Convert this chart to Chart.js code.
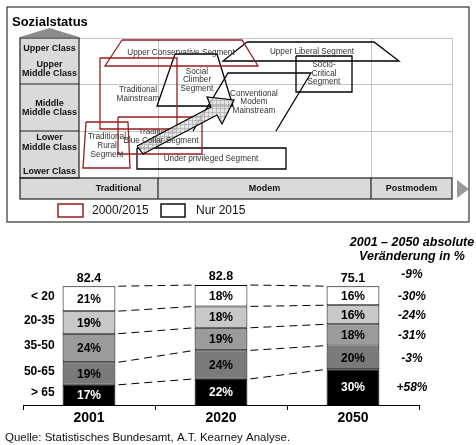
<!DOCTYPE html>
<html><head><meta charset="utf-8">
<script src="https://cdn.jsdelivr.net/npm/chart.js@4.4.0/dist/chart.umd.min.js"></script>
<style>
html,body{margin:0;padding:0;background:#fff;}
#wrap{position:relative;width:476px;height:445px;overflow:hidden;background:#fff;}
#c1{position:absolute;left:0;top:0;}
#c2{position:absolute;left:0;top:230px;}
</style></head><body>
<div id="wrap">
<canvas id="c1" width="476" height="230"></canvas>
<canvas id="c2" width="476" height="215"></canvas>
</div>
<script>
// ---------- Bottom chart data ----------
const years = ['2001', '2020', '2050'];
const totals = ['82.4', '82.8', '75.1'];
const ageGroups = ['> 65', '50-65', '35-50', '20-35', '< 20']; // bottom to top
const share65plus = [17, 22, 30];
const share50to65 = [19, 24, 20];
const share35to50 = [24, 19, 18];
const share20to35 = [19, 18, 16];
const shareUnder20 = [21, 18, 16];
const changeLabels = ['+58%', '-3%', '-31%', '-24%', '-30%']; // bottom to top
const totalChange = '-9%';
const headerLines = ['2001 \u2013 2050 absolute', 'Ver\u00e4nderung in %'];
const sourceText = 'Quelle: Statistisches Bundesamt, A.T. Kearney Analyse.';

// ---------- Top diagram data (value orientation x, social status y) ----------
const statusLabels = [['Upper Class'], ['Upper', 'Middle Class'], ['Middle', 'Middle Class'], ['Lower', 'Middle Class'], ['Lower Class']];
const orientationLabels = ['Traditional', 'Modem', 'Postmodem'];
const legendLabels = ['2000/2015', 'Nur 2015'];
const upperConservative = [[43,138],[163,138],[179,112],[26,112]];
const traditionalMainstream = [[21,120],[98,120],[98,49],[21,49]];
const traditionalRural = [[7,56],[49,56],[51,10],[4,10]];
const blueCollar = [[39,61],[123,61],[123,24],[39,24]];
const socialClimber = [[96,124],[138,124],[154,72],[78,72]];
const convModern = [[114,47],[149,105],[232,105],[197,47]];
const upperLiberal = [[168,136],[295,136],[320,117],[144,117]];
const socioCritical = [[217,122],[273,122],[273,86],[217,86]];
const underPrivileged = [[58,30],[207,30],[207,9],[58,9]];
const trendArrow = [[58,32],[132,71],[128,81],[155,78],[143,54],[138,63],[64,24]];

const FONT = "'Liberation Sans', Arial, Helvetica, sans-serif";
const RED = '#9b1c1c';

function pts(arr, close) {
  const p = arr.map(([x, y]) => ({x, y}));
  if (close) p.push({x: arr[0][0], y: arr[0][1]});
  return p;
}
function makeHatch() {
  const c = document.createElement('canvas');
  c.width = 4; c.height = 4;
  const g = c.getContext('2d');
  g.fillStyle = 'rgba(222,222,222,0.8)'; g.fillRect(0, 0, 4, 4);
  g.fillStyle = 'rgba(160,160,160,0.55)'; g.fillRect(0, 0, 4, 1); g.fillRect(0, 0, 1, 4);
  return g.createPattern(c, 'repeat');
}
const hatch = makeHatch();

function shapeDs(arr, color, close, extra) {
  return Object.assign({data: pts(arr, close), showLine: true, borderColor: color, borderWidth: 1.3,
    pointRadius: 0, fill: false, tension: 0}, extra || {});
}

const diagramDatasets = [
  shapeDs(trendArrow, '#000', true, {hatch: true, borderWidth: 1.2}),
  shapeDs(upperConservative, RED, true),
  shapeDs(traditionalMainstream, RED, true),
  shapeDs(traditionalRural, RED, true),
  shapeDs(blueCollar, RED, true),
  shapeDs(socialClimber, '#000', true),
  shapeDs(convModern, '#000', false),
  shapeDs(upperLiberal, '#000', true),
  shapeDs(socioCritical, '#000', true),
  shapeDs(underPrivileged, '#000', true)
];

const diagramPlugin = {
  id: 'diagram',
  beforeDatasetsDraw(chart) {
    const {ctx, scales: {x, y}} = chart;
    const X = v => x.getPixelForValue(v), Y = v => y.getPixelForValue(v);
    ctx.save();
    // outer frame
    ctx.strokeStyle = '#333'; ctx.lineWidth = 1.2;
    ctx.strokeRect(X(-72), Y(171), X(390) - X(-72), Y(-44) - Y(171));
    // title
    ctx.fillStyle = '#000'; ctx.font = 'bold 13px ' + FONT; ctx.textBaseline = 'middle'; ctx.textAlign = 'left';
    ctx.fillText('Sozialstatus', X(-67), Y(156));
    // fills
    ctx.fillStyle = '#dadada';
    ctx.fillRect(X(-59), Y(140), X(0) - X(-59), Y(0) - Y(140));
    ctx.fillRect(X(-59), Y(0), X(373) - X(-59), Y(-21) - Y(0));
    // light grid
    ctx.strokeStyle = '#c4c4c4'; ctx.lineWidth = 1;
    ctx.beginPath();
    [140, 94, 47].forEach(v => { ctx.moveTo(X(0), Y(v) + 0.5); ctx.lineTo(X(373), Y(v) + 0.5); });
    [79, 292, 373].forEach(v => { ctx.moveTo(X(v) + 0.5, Y(140)); ctx.lineTo(X(v) + 0.5, Y(0)); });
    ctx.stroke();
    // dark structure
    ctx.strokeStyle = '#222'; ctx.lineWidth = 1.2;
    ctx.strokeRect(X(-59), Y(140), X(0) - X(-59), Y(0) - Y(140));
    ctx.strokeRect(X(-59), Y(0), X(373) - X(-59), Y(-21) - Y(0));
    ctx.beginPath();
    [94, 47].forEach(v => { ctx.moveTo(X(-59), Y(v)); ctx.lineTo(X(0), Y(v)); });
    [79, 292].forEach(v => { ctx.moveTo(X(v), Y(0)); ctx.lineTo(X(v), Y(-21)); });
    ctx.stroke();
    // roof triangle and right arrow marker
    ctx.fillStyle = '#8c8c8c';
    ctx.beginPath(); ctx.moveTo(X(-59), Y(141)); ctx.lineTo(X(-29.5), Y(150)); ctx.lineTo(X(0), Y(141)); ctx.closePath(); ctx.fill();
    ctx.fillStyle = '#999';
    ctx.beginPath(); ctx.moveTo(X(378), Y(-2)); ctx.lineTo(X(390), Y(-11)); ctx.lineTo(X(378), Y(-20)); ctx.closePath(); ctx.fill();
    // status labels
    ctx.fillStyle = '#111'; ctx.font = 'bold 9px ' + FONT; ctx.textAlign = 'center';
    const statusY = [[129], [113, 104], [74, 65], [40, 30], [6]];
    statusLabels.forEach((lines, i) => lines.forEach((t, j) => ctx.fillText(t, X(-29.5), Y(statusY[i][j]))));
    // orientation labels
    const orientX = [39.5, 185.5, 332.5];
    ctx.font = 'bold 9px ' + FONT;
    orientationLabels.forEach((t, i) => ctx.fillText(t, X(orientX[i]), Y(-11)));
    // legend
    ctx.lineWidth = 1.5;
    ctx.strokeStyle = RED; ctx.strokeRect(X(-21), Y(-26), X(4) - X(-21), Y(-39) - Y(-26));
    ctx.strokeStyle = '#111'; ctx.strokeRect(X(82), Y(-26), X(106) - X(82), Y(-39) - Y(-26));
    ctx.font = '12px ' + FONT; ctx.textAlign = 'left'; ctx.fillStyle = '#111';
    ctx.fillText(legendLabels[0], X(13), Y(-32.5));
    ctx.fillText(legendLabels[1], X(117), Y(-32.5));
    // label under the arrow
    ctx.font = '8px ' + FONT; ctx.textAlign = 'center'; ctx.fillStyle = '#333';
    ctx.fillText('Traditional', X(78), Y(46));
    ctx.restore();
  },
  beforeDatasetDraw(chart, args) {
    const ds = chart.data.datasets[args.index];
    if (!ds.hatch) return;
    const {ctx} = chart; const els = args.meta.data;
    ctx.save(); ctx.beginPath();
    els.forEach((e, i) => i ? ctx.lineTo(e.x, e.y) : ctx.moveTo(e.x, e.y));
    ctx.closePath(); ctx.fillStyle = hatch; ctx.fill(); ctx.restore();
  },
  afterDatasetsDraw(chart) {
    const {ctx, scales: {x, y}} = chart;
    const X = v => x.getPixelForValue(v), Y = v => y.getPixelForValue(v);
    ctx.save();
    ctx.font = '8.2px ' + FONT; ctx.textAlign = 'center'; ctx.textBaseline = 'middle'; ctx.fillStyle = '#333';
    const labels = [
      [['Upper Conservative Segment'], 102, [125]],
      [['Upper Liberal Segment'], 233, [126]],
      [['Social', 'Climber', 'Segment'], 118, [106, 98, 89]],
      [['Traditional', 'Mainstream'], 59, [88, 79]],
      [['Conventional', 'Modem', 'Mainstream'], 175, [84, 76, 67]],
      [['Socio-', 'Critical', 'Segment'], 245, [113, 104, 96]],
      [['Traditional', 'Rural', 'Segment'], 28, [41, 32, 23]],
      [['Blue Collar Segment'], 82, [37]],
      [['Under privileged Segment'], 132, [19]]
    ];
    labels.forEach(([lines, cx, ys]) => lines.forEach((t, j) => ctx.fillText(t, X(cx), Y(ys[j]))));
    ctx.restore();
  }
};

new Chart(document.getElementById('c1'), {
  type: 'scatter',
  data: {datasets: diagramDatasets},
  options: {
    responsive: false, animation: false,
    layout: {padding: 0},
    scales: {
      x: {type: 'linear', min: -79, max: 397, display: false},
      y: {type: 'linear', min: -52, max: 178, display: false}
    },
    plugins: {legend: {display: false}, tooltip: {enabled: false}}
  },
  plugins: [diagramPlugin]
});

// ---------- Bottom stacked bar chart ----------
const segColors = ['#000000', '#7a7a7a', '#9b9b9b', '#c8c8c8', '#ffffff'];
const segData = [share65plus, share50to65, share35to50, share20to35, shareUnder20];

const barPlugin = {
  id: 'barLabels',
  afterDatasetsDraw(chart) {
    const {ctx} = chart;
    const metas = segData.map((_, i) => chart.getDatasetMeta(i));
    ctx.save();
    // dashed connectors
    ctx.strokeStyle = '#000'; ctx.lineWidth = 1; ctx.setLineDash([8, 5]);
    metas.forEach(meta => {
      for (let i = 0; i < meta.data.length - 1; i++) {
        const a = meta.data[i], b = meta.data[i + 1];
        ctx.beginPath();
        ctx.moveTo(a.x + a.width / 2 + 3, a.y);
        ctx.lineTo(b.x - b.width / 2, b.y);
        ctx.stroke();
      }
    });
    ctx.setLineDash([]);
    ctx.textAlign = 'center'; ctx.textBaseline = 'middle';
    // values in bars
    ctx.font = 'bold 12px ' + FONT;
    metas.forEach((meta, d) => {
      meta.data.forEach((bar, i) => {
        ctx.fillStyle = d === 0 ? '#fff' : '#000';
        ctx.fillText(segData[d][i] + '%', bar.x, (bar.y + bar.base) / 2 + 1);
      });
    });
    // totals
    ctx.fillStyle = '#000'; ctx.font = 'bold 12.5px ' + FONT;
    const top = metas[metas.length - 1];
    top.data.forEach((bar, i) => ctx.fillText(totals[i], bar.x, bar.y - 8));
    // age group labels (left)
    ctx.textAlign = 'right'; ctx.font = 'bold 12px ' + FONT;
    metas.forEach((meta, d) => {
      const bar = meta.data[0];
      ctx.fillText(ageGroups[d], bar.x - bar.width / 2 - 8, (bar.y + bar.base) / 2 - 2);
    });
    // change labels (right)
    ctx.textAlign = 'center'; ctx.font = 'italic bold 12px ' + FONT;
    const rx = chart.chartArea.right - 7;
    metas.forEach((meta, d) => {
      const bar = meta.data[2];
      ctx.fillText(changeLabels[d], rx, (bar.y + bar.base) / 2 + 1);
    });
    ctx.fillText(totalChange, rx, top.data[2].y - 12);
    ctx.font = 'italic bold 12.5px ' + FONT;
    ctx.fillText(headerLines[0], rx, 13);
    ctx.fillText(headerLines[1], rx, 27);
    // source
    ctx.textAlign = 'left'; ctx.font = '11.5px ' + FONT; ctx.fillStyle = '#111';
    ctx.fillText(sourceText, 5, 208);
    ctx.restore();
  }
};

new Chart(document.getElementById('c2'), {
  type: 'bar',
  data: {
    labels: years,
    datasets: segData.map((vals, i) => ({
      label: ageGroups[i], data: vals, backgroundColor: segColors[i],
      borderColor: '#000', borderWidth: 1, borderSkipped: false,
      barPercentage: 0.4, categoryPercentage: 1, stack: 's'
    }))
  },
  options: {
    responsive: false, animation: false,
    layout: {padding: {left: 23, right: 57, top: 55, bottom: 0}},
    scales: {
      x: {
        stacked: true,
        grid: {display: true, offset: true, drawOnChartArea: false, tickLength: 5, color: '#000', lineWidth: 1},
        border: {display: true, color: '#000', width: 1},
        ticks: {color: '#000', padding: 0, font: {family: FONT, size: 14, weight: 'bold'}},
        afterFit: s => { s.height = 40; }
      },
      y: {stacked: true, display: false, min: 0, max: 101}
    },
    plugins: {legend: {display: false}, tooltip: {enabled: false}}
  },
  plugins: [barPlugin]
});
</script>
</body></html>
